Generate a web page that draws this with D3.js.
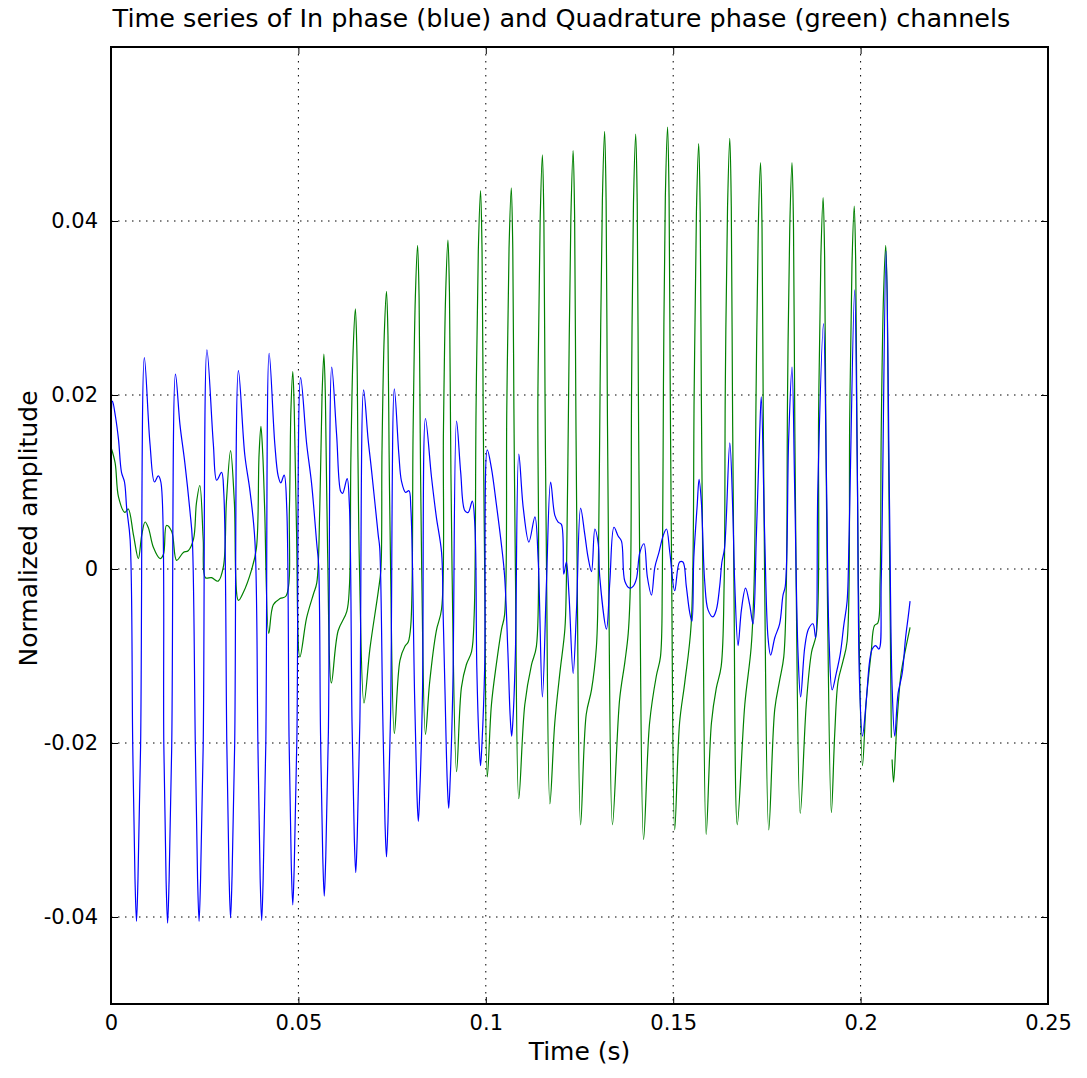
<!DOCTYPE html>
<html>
<head>
<meta charset="utf-8">
<script src="https://d3js.org/d3.v7.min.js"></script>
<style>
  body { margin: 0; background: #ffffff; }
  #chart text { font-family: "DejaVu Sans", Verdana, sans-serif; fill: #000; }
</style>
</head>
<body>
<div id="chart"></div>
<script>
// In phase channel (blue): [time (s), normalized amplitude]
var inPhase = [
  [0.0000,0.0170],[0.0004,0.0193],[0.0012,0.0175],[0.0020,0.0149],[0.0028,0.0111],[0.0036,0.0100],[0.0042,0.0069],[0.0051,0.0034],
  [0.0058,-0.0203],[0.0064,-0.0356],[0.0068,-0.0405],[0.0072,-0.0356],[0.0079,-0.0203],
  [0.0089,0.0243],[0.0104,0.0144],[0.0116,0.0100],[0.0126,0.0107],[0.0133,0.0100],
  [0.0141,-0.0204],[0.0147,-0.0358],[0.0151,-0.0407],[0.0155,-0.0358],[0.0162,-0.0204],
  [0.0172,0.0224],[0.0184,0.0166],[0.0197,0.0122],[0.0211,0.0065],[0.0217,0.0034],
  [0.0225,-0.0203],[0.0231,-0.0356],[0.0235,-0.0405],[0.0239,-0.0356],[0.0246,-0.0203],
  [0.0256,0.0252],[0.0273,0.0144],[0.0282,0.0102],[0.0295,0.0111],[0.0301,0.0087],
  [0.0309,-0.0201],[0.0315,-0.0353],[0.0319,-0.0401],[0.0323,-0.0353],[0.0330,-0.0201],
  [0.0340,0.0228],[0.0357,0.0131],[0.0371,0.0089],[0.0384,0.0032],
  [0.0392,-0.0202],[0.0398,-0.0356],[0.0402,-0.0404],[0.0406,-0.0356],[0.0413,-0.0202],
  [0.0422,0.0248],[0.0437,0.0144],[0.0446,0.0107],[0.0453,0.0099],[0.0462,0.0108],[0.0469,0.0069],
  [0.0475,-0.0193],[0.0481,-0.0340],[0.0485,-0.0386],[0.0489,-0.0340],[0.0496,-0.0193],
  [0.0506,0.0220],[0.0522,0.0144],[0.0535,0.0099],[0.0549,0.0029],[0.0554,0.0004],
  [0.0559,-0.0188],[0.0565,-0.0331],[0.0569,-0.0376],[0.0573,-0.0331],[0.0580,-0.0188],
  [0.0589,0.0232],[0.0602,0.0154],[0.0613,0.0089],[0.0618,0.0087],[0.0630,0.0104],[0.0636,0.0074],
  [0.0643,-0.0175],[0.0649,-0.0307],[0.0653,-0.0349],[0.0657,-0.0307],[0.0664,-0.0175],
  [0.0674,0.0206],[0.0686,0.0149],[0.0695,0.0114],[0.0713,0.0039],[0.0717,0.0024],
  [0.0725,-0.0166],[0.0731,-0.0291],[0.0735,-0.0331],[0.0739,-0.0291],[0.0746,-0.0166],
  [0.0756,0.0207],[0.0768,0.0132],[0.0775,0.0101],[0.0786,0.0088],[0.0795,0.0090],[0.0800,0.0070],
  [0.0810,-0.0145],[0.0816,-0.0255],[0.0820,-0.0290],[0.0824,-0.0255],[0.0831,-0.0145],
  [0.0839,0.0173],[0.0855,0.0106],[0.0868,0.0060],[0.0882,0.0019],[0.0886,-0.0048],
  [0.0891,-0.0138],[0.0897,-0.0242],[0.0901,-0.0275],[0.0905,-0.0242],[0.0912,-0.0138],
  [0.0922,0.0170],[0.0933,0.0111],[0.0944,0.0067],[0.0953,0.0065],[0.0964,0.0078],[0.0971,0.0049],
  [0.0976,-0.0113],[0.0982,-0.0199],[0.0986,-0.0226],[0.0990,-0.0199],[0.0997,-0.0113],
  [0.1004,0.0137],[0.1015,0.0116],[0.1028,0.0075],[0.1040,0.0034],[0.1050,-0.0007],
  [0.1059,-0.0096],[0.1065,-0.0169],[0.1069,-0.0192],[0.1073,-0.0169],[0.1079,-0.0096],
  [0.1088,0.0132],[0.1100,0.0070],[0.1115,0.0031],[0.1131,0.0060],[0.1140,0.0008],[0.1151,-0.0147],[0.1162,-0.0014],
  [0.1173,0.0100],[0.1184,0.0062],[0.1193,0.0054],[0.1202,0.0051],[0.1208,-0.0006],[0.1215,0.0008],[0.1222,-0.0030],[0.1233,-0.0120],[0.1242,-0.0047],
  [0.1253,0.0070],[0.1264,0.0040],[0.1273,0.0013],[0.1282,-0.0003],[0.1291,0.0046],[0.1300,0.0029],[0.1304,-0.0009],[0.1322,-0.0069],[0.1331,-0.0014],
  [0.1342,0.0048],[0.1353,0.0038],[0.1362,0.0032],[0.1371,-0.0014],[0.1384,-0.0022],[0.1393,-0.0020],[0.1402,-0.0011],[0.1411,0.0019],[0.1422,0.0029],
  [0.1431,-0.0009],[0.1442,-0.0030],[0.1451,0.0002],[0.1462,0.0019],[0.1473,0.0038],[0.1482,0.0046],[0.1491,0.0019],[0.1504,-0.0025],[0.1517,0.0008],
  [0.1526,0.0008],[0.1535,-0.0020],[0.1544,-0.0050],[0.1550,-0.0060],[0.1555,0.0013],[0.1564,0.0073],[0.1569,0.0103],[0.1575,0.0078],[0.1584,-0.0014],
  [0.1593,-0.0047],[0.1606,-0.0055],[0.1615,-0.0047],[0.1624,-0.0020],[0.1630,0.0008],[0.1637,0.0024],[0.1651,0.0145],[0.1659,0.0067],[0.1664,-0.0014],
  [0.1673,-0.0088],[0.1682,-0.0047],[0.1693,-0.0022],[0.1704,-0.0041],[0.1713,-0.0063],[0.1722,0.0040],[0.1731,0.0160],[0.1735,0.0198],[0.1744,0.0040],
  [0.1753,-0.0079],[0.1760,-0.0099],[0.1771,-0.0079],[0.1784,-0.0063],[0.1793,-0.0030],[0.1799,-0.0020],[0.1808,0.0149],[0.1817,0.0232],[0.1824,0.0095],
  [0.1833,-0.0096],[0.1840,-0.0147],[0.1851,-0.0090],[0.1861,-0.0069],[0.1873,-0.0063],[0.1880,-0.0079],[0.1886,0.0095],[0.1901,0.0282],[0.1909,0.0102],
  [0.1916,-0.0083],[0.1924,-0.0139],[0.1935,-0.0120],[0.1946,-0.0097],[0.1955,-0.0065],[0.1964,-0.0037],[0.1969,0.0032],[0.1984,0.0321],[0.1991,0.0125],
  [0.1997,-0.0129],[0.2005,-0.0192],[0.2015,-0.0152],[0.2024,-0.0106],[0.2031,-0.0092],[0.2040,-0.0088],[0.2049,-0.0092],[0.2055,-0.0014],[0.2068,0.0365],
  [0.2077,0.0079],[0.2084,-0.0134],[0.2091,-0.0192],[0.2100,-0.0143],[0.2111,-0.0120],[0.2120,-0.0079],[0.2127,-0.0055],[0.2132,-0.0037]
];

// Quadrature phase channel (green); null marks the break in the record
var quadrature = [
  [0.0000,0.0140],[0.0011,0.0122],[0.0020,0.0083],[0.0037,0.0065],[0.0046,0.0069],[0.0060,0.0039],[0.0073,0.0012],[0.0082,0.0039],[0.0091,0.0054],
  [0.0100,0.0047],[0.0113,0.0025],[0.0131,0.0012],[0.0140,0.0017],[0.0148,0.0050],[0.0162,0.0043],[0.0175,0.0010],[0.0193,0.0019],[0.0206,0.0021],
  [0.0220,0.0034],[0.0228,0.0076],[0.0237,0.0096],[0.0246,0.0034],[0.0252,-0.0010],[0.0268,-0.0010],[0.0286,-0.0014],[0.0300,0.0003],[0.0308,0.0078],
  [0.0319,0.0136],[0.0329,0.0078],[0.0340,-0.0036],[0.0353,-0.0027],[0.0375,-0.0001],[0.0388,0.0024],
  [0.0395,0.0131],[0.0400,0.0164],[0.0405,0.0131],[0.0410,0.0069],[0.0421,-0.0074],[0.0433,-0.0041],[0.0451,-0.0034],[0.0467,-0.0031],[0.0476,0.0069],
  [0.0480,0.0182],[0.0485,0.0227],[0.0489,0.0182],[0.0495,0.0044],[0.0504,-0.0101],[0.0522,-0.0056],[0.0540,-0.0029],[0.0549,-0.0016],[0.0557,0.0069],
  [0.0563,0.0198],[0.0568,0.0247],[0.0572,0.0198],[0.0578,0.0019],[0.0588,-0.0131],[0.0606,-0.0071],[0.0629,-0.0049],[0.0636,-0.0021],
  [0.0640,0.0126],[0.0646,0.0251],[0.0652,0.0299],[0.0656,0.0251],[0.0659,0.0126],[0.0663,0.0000],[0.0675,-0.0154],[0.0691,-0.0091],[0.0713,-0.0026],[0.0720,-0.0001],
  [0.0723,0.0134],[0.0729,0.0268],[0.0735,0.0319],[0.0739,0.0268],[0.0742,0.0134],[0.0746,0.0000],[0.0756,-0.0189],[0.0771,-0.0105],[0.0784,-0.0089],[0.0793,-0.0084],[0.0800,-0.0064],
  [0.0806,0.0156],[0.0812,0.0312],[0.0818,0.0372],[0.0822,0.0312],[0.0825,0.0156],[0.0829,-0.0002],[0.0839,-0.0190],[0.0850,-0.0131],[0.0868,-0.0071],[0.0882,-0.0046],
  [0.0887,0.0159],[0.0893,0.0318],[0.0899,0.0378],[0.0903,0.0318],[0.0906,0.0159],[0.0910,-0.0002],[0.0922,-0.0233],[0.0935,-0.0136],[0.0948,-0.0110],[0.0962,-0.0095],[0.0969,-0.0053],
  [0.0974,0.0183],[0.0980,0.0365],[0.0986,0.0435],[0.0990,0.0365],[0.0993,0.0183],[0.0997,-0.0002],[0.1004,-0.0239],[0.1015,-0.0156],[0.1028,-0.0110],[0.1042,-0.0069],[0.1050,-0.0053],
  [0.1056,0.0184],[0.1062,0.0368],[0.1068,0.0438],[0.1072,0.0368],[0.1075,0.0184],[0.1079,-0.0002],[0.1088,-0.0264],[0.1104,-0.0156],[0.1122,-0.0110],[0.1135,-0.0089],
  [0.1139,0.0200],[0.1145,0.0400],[0.1151,0.0476],[0.1155,0.0400],[0.1158,0.0200],[0.1162,0.0000],[0.1171,-0.0270],[0.1184,-0.0177],[0.1198,-0.0118],[0.1211,-0.0069],[0.1215,-0.0014],
  [0.1221,0.0202],[0.1227,0.0404],[0.1233,0.0481],[0.1237,0.0404],[0.1240,0.0202],[0.1244,-0.0014],[0.1253,-0.0294],[0.1268,-0.0167],[0.1282,-0.0139],[0.1295,-0.0090],[0.1300,-0.0014],
  [0.1305,0.0211],[0.1311,0.0423],[0.1317,0.0503],[0.1321,0.0423],[0.1324,0.0211],[0.1328,-0.0014],[0.1338,-0.0294],[0.1357,-0.0150],[0.1371,-0.0107],[0.1380,-0.0074],[0.1386,-0.0014],
  [0.1389,0.0210],[0.1394,0.0420],[0.1400,0.0500],[0.1404,0.0420],[0.1407,0.0210],[0.1411,-0.0014],[0.1421,-0.0311],[0.1437,-0.0177],[0.1455,-0.0123],[0.1466,-0.0101],[0.1471,-0.0014],
  [0.1474,0.0213],[0.1479,0.0427],[0.1485,0.0508],[0.1489,0.0427],[0.1492,0.0213],[0.1496,-0.0014],[0.1504,-0.0300],[0.1517,-0.0177],[0.1531,-0.0130],[0.1548,-0.0063],
  [0.1556,0.0205],[0.1562,0.0411],[0.1568,0.0489],[0.1572,0.0411],[0.1575,0.0205],[0.1579,0.0000],[0.1588,-0.0305],[0.1602,-0.0177],[0.1615,-0.0137],[0.1628,-0.0112],[0.1636,-0.0014],
  [0.1639,0.0208],[0.1645,0.0416],[0.1651,0.0495],[0.1655,0.0416],[0.1658,0.0208],[0.1662,-0.0014],[0.1671,-0.0294],[0.1691,-0.0156],[0.1708,-0.0090],[0.1716,-0.0014],
  [0.1721,0.0196],[0.1727,0.0392],[0.1733,0.0467],[0.1737,0.0392],[0.1740,0.0196],[0.1744,-0.0014],[0.1755,-0.0300],[0.1771,-0.0161],[0.1784,-0.0128],[0.1795,-0.0101],[0.1802,-0.0014],
  [0.1805,0.0196],[0.1811,0.0392],[0.1817,0.0467],[0.1821,0.0392],[0.1824,0.0196],[0.1828,-0.0014],[0.1839,-0.0281],[0.1855,-0.0156],[0.1869,-0.0096],[0.1882,-0.0074],
  [0.1888,0.0179],[0.1894,0.0359],[0.1900,0.0427],[0.1904,0.0359],[0.1907,0.0179],[0.1911,-0.0014],[0.1922,-0.0280],[0.1931,-0.0189],[0.1940,-0.0129],[0.1953,-0.0106],[0.1964,-0.0083],
  [0.1971,0.0175],[0.1977,0.0350],[0.1983,0.0417],[0.1987,0.0350],[0.1990,0.0175],[0.1994,-0.0014],[0.2005,-0.0226],[0.2015,-0.0152],[0.2028,-0.0097],[0.2037,-0.0065],[0.2046,-0.0062],[0.2052,-0.0014],
  [0.2055,0.0156],[0.2061,0.0312],[0.2067,0.0372],[0.2071,0.0312],[0.2074,0.0156],[0.2077,0.0032],[0.2082,-0.0194],[0.2083,null],
  [0.2084,-0.0219],[0.2088,-0.0245],[0.2097,-0.0176],[0.2108,-0.0120],[0.2120,-0.0092],[0.2132,-0.0067]
];

var xTicks = [0, 0.05, 0.1, 0.15, 0.2, 0.25];
var yTicks = [-0.04, -0.02, 0, 0.02, 0.04];
var xDomain = [0, 0.25];
var yDomain = [-0.05, 0.06];

var margin = {top: 47, right: 39, bottom: 74, left: 111},
    totalWidth = 1087,
    totalHeight = 1078,
    width = totalWidth - margin.left - margin.right,
    height = totalHeight - margin.top - margin.bottom;

var root = d3.select("#chart")
    .append("svg")
    .attr("width", totalWidth)
    .attr("height", totalHeight);

var svg = root.append("g")
    .attr("transform", "translate(" + margin.left + "," + margin.top + ")");

var x = d3.scaleLinear().domain(xDomain).range([0, width]);
var y = d3.scaleLinear().domain(yDomain).range([height, 0]);

// labels like matplotlib: plain hyphen, no trailing zeros
var fmt = function (d) { return String(+d.toFixed(3)); };

// dotted grid
svg.append("g")
    .selectAll("line.gx")
    .data(xTicks.slice(1, -1))
    .enter()
    .append("line")
    .attr("x1", function (d) { return x(d); })
    .attr("x2", function (d) { return x(d); })
    .attr("y1", 0)
    .attr("y2", height)
    .attr("stroke", "#000")
    .attr("stroke-width", 1)
    .attr("stroke-dasharray", "1.5,5.5");

svg.append("g")
    .selectAll("line.gy")
    .data(yTicks)
    .enter()
    .append("line")
    .attr("x1", 0)
    .attr("x2", width)
    .attr("y1", function (d) { return y(d); })
    .attr("y2", function (d) { return y(d); })
    .attr("stroke", "#000")
    .attr("stroke-width", 1)
    .attr("stroke-dasharray", "1.5,5.5");

// series
var line = d3.line()
    .defined(function (d) { return d[1] !== null; })
    .x(function (d) { return x(d[0]); })
    .y(function (d) { return y(d[1]); })
    .curve(d3.curveCatmullRom.alpha(0.5));

svg.append("path")
    .datum(quadrature)
    .attr("fill", "none")
    .attr("stroke", "#008000")
    .attr("stroke-width", 1.2)
    .attr("stroke-linejoin", "round")
    .attr("d", line);

svg.append("path")
    .datum(inPhase)
    .attr("fill", "none")
    .attr("stroke", "#0000ff")
    .attr("stroke-width", 1.2)
    .attr("stroke-linejoin", "round")
    .attr("d", line);

// axes, ticks pointing inwards on all four sides
var xAxis = svg.append("g")
    .attr("transform", "translate(0," + height + ")")
    .call(d3.axisBottom(x).tickValues(xTicks).tickFormat(fmt).tickSizeInner(-7).tickSizeOuter(0).tickPadding(11));
var yAxis = svg.append("g")
    .call(d3.axisLeft(y).tickValues(yTicks).tickFormat(fmt).tickSizeInner(-7).tickSizeOuter(0).tickPadding(13));
svg.append("g")
    .call(d3.axisTop(x).tickValues(xTicks).tickFormat("").tickSizeInner(-7).tickSizeOuter(0));
svg.append("g")
    .attr("transform", "translate(" + width + ",0)")
    .call(d3.axisRight(y).tickValues(yTicks).tickFormat("").tickSizeInner(-7).tickSizeOuter(0));

svg.selectAll(".domain").remove();
svg.selectAll(".tick line").attr("stroke", "#000").attr("stroke-width", 1);
xAxis.selectAll("text").attr("font-size", "21px").attr("font-family", "DejaVu Sans").attr("fill", "#000");
yAxis.selectAll("text").attr("font-size", "21px").attr("font-family", "DejaVu Sans").attr("fill", "#000");

// frame
svg.append("rect")
    .attr("x", 0)
    .attr("y", 0)
    .attr("width", width)
    .attr("height", height)
    .attr("fill", "none")
    .attr("stroke", "#000")
    .attr("stroke-width", 2);

// title and axis labels
root.append("text")
    .attr("x", 561.5)
    .attr("y", 27)
    .attr("text-anchor", "middle")
    .attr("font-size", "25.5px")
    .text("Time series of In phase (blue) and Quadrature phase (green) channels");

root.append("text")
    .attr("x", margin.left + width / 2)
    .attr("y", 1060)
    .attr("text-anchor", "middle")
    .attr("font-size", "25px")
    .text("Time (s)");

root.append("text")
    .attr("transform", "translate(37," + (margin.top + height / 2 + 3) + ") rotate(-90)")
    .attr("text-anchor", "middle")
    .attr("font-size", "25px")
    .text("Normalized amplitude");
</script>
</body>
</html>
